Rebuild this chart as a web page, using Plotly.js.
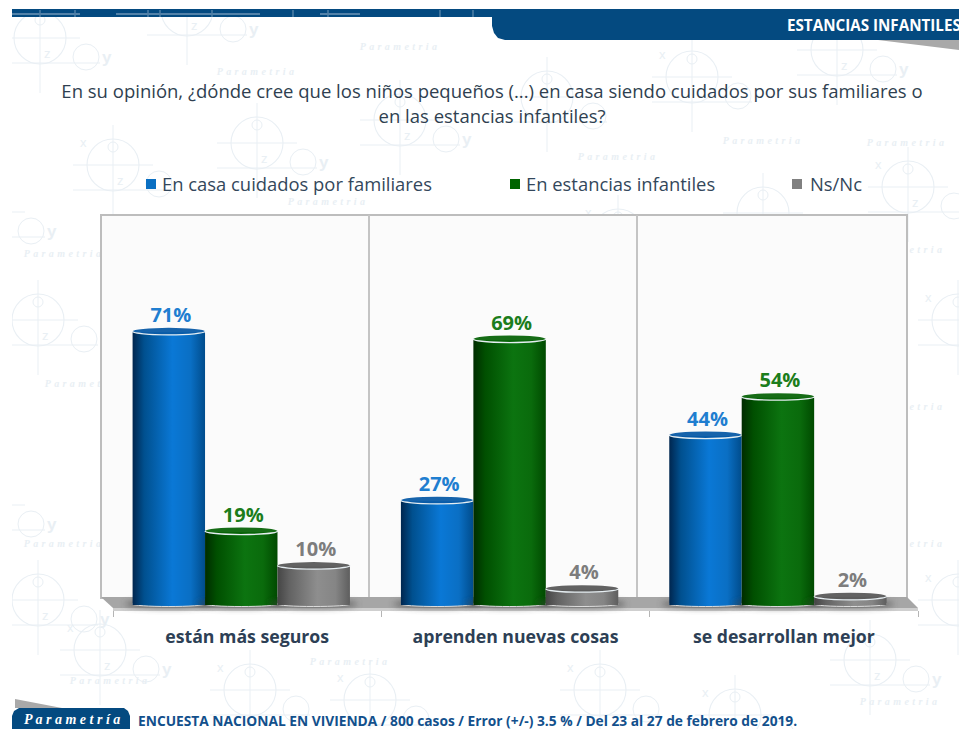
<!DOCTYPE html>
<html lang="es">
<head>
<meta charset="utf-8">
<script src="https://cdn.plot.ly/plotly-3.0.1.min.js"></script>
<style>
html,body{margin:0;padding:0;background:#fff;overflow:hidden}
#stage{position:relative;width:959px;height:729px;overflow:hidden}
#wm{position:absolute;left:0;top:0}
#chart{position:absolute;left:0;top:0;width:959px;height:729px}
</style>
</head>
<body>
<div id="stage">
<svg id="wm" width="959" height="729"></svg>
<div id="chart"></div>
</div>
<script>
var categories = ["están más seguros", "aprenden nuevas cosas", "se desarrollan mejor"];
var seriesNames = ["En casa cuidados por familiares", "En estancias infantiles", "Ns/Nc"];
var enCasa = [71, 27, 44];
var enEstancias = [19, 69, 54];
var nsNc = [10, 4, 2];
var titleText = "En su opinión, ¿dónde cree que los niños pequeños (...) en casa siendo cuidados por sus familiares o<br>en las estancias infantiles?";
var headerText = "ESTANCIAS INFANTILES";
var brandText = "Parametría";
var footerText = "ENCUESTA NACIONAL EN VIVIENDA / 800 casos / Error (+/-) 3.5 % / Del 23 al 27 de febrero de 2019.";

var swatch = ["#0a6fc2", "#006400", "#808080"];
var labelCol = ["#1f7ed0", "#1c7d1c", "#7d7d7d"];
var lidCol = ["#0a5ba6", "#0a640a", "#5a5a5a"];
var grads = [
  [["0","#00264f"],["0.16","#00508f"],["0.55","#0a78d6"],["0.8","#0a6fc4"],["1","#004c8c"]],
  [["0","#002c00"],["0.16","#004f00"],["0.55","#0c7410"],["0.8","#0a6b0c"],["1","#004a00"]],
  [["0","#454545"],["0.16","#626262"],["0.55","#8e8e8e"],["0.8","#858585"],["1","#5e5e5e"]]
];

/* watermark behind the page */
var NS = "http://www.w3.org/2000/svg";
var wm = document.getElementById("wm");
var motifs = [[40,38],[187,10],[113,165],[257,143],[400,120],[547,97],[692,77],[837,50],[908,187],[763,213],[618,235],
  [38,320],[38,600],[958,320],[958,600],[-15,212],[-15,505],[370,700],[600,690],[735,715],[100,650],[870,660],[250,690]];
var words = [[400,50],[257,75],[328,205],[907,146],[763,144],[618,160],[64,257],[85,387],[905,253],
  [905,410],[64,547],[905,547],[110,684],[350,665],[900,705]];
function el(tag, attrs, txt){var e=document.createElementNS(NS,tag);for(var k in attrs)e.setAttribute(k,attrs[k]);if(txt)e.textContent=txt;wm.appendChild(e);return e;}
var wmc = "#e9eff4";
function clearOfText(x,y){
  if(x<14||x>940||y<24||y>704)return false;
  if(y<48&&x>480)return false;
  if(y>78&&y<132&&x>50&&x<935)return false;
  if(y>170&&y<200&&x>130&&x<875)return false;
  if(y>622&&y<652&&x>150&&x<885)return false;
  return true;
}
function letter(x,y,s,size,bold){
  if(!clearOfText(x,y))return;
  el("text",{x:x,y:y,fill:wmc,"font-size":size,"font-weight":bold?"bold":"normal","font-family":"Liberation Sans"},s);
}
motifs.forEach(function(m){
  var x=m[0],y=m[1];
  el("circle",{cx:x,cy:y,r:26,fill:"none",stroke:wmc,"stroke-width":1.1});
  el("circle",{cx:x,cy:y-18,r:5,fill:"none",stroke:wmc});
  el("circle",{cx:x+46,cy:y+19,r:13,fill:"none",stroke:wmc});
  el("line",{x1:x-40,y1:y,x2:x+40,y2:y,stroke:wmc});
  el("line",{x1:x,y1:y-40,x2:x,y2:y+55,stroke:wmc});
  el("line",{x1:x-40,y1:y+25,x2:x+60,y2:y+25,stroke:wmc});
  letter(x-33,y-18,"x",13,false);
  letter(x+4,y+20,"z",13,false);
  letter(x+62,y+25,"y",17,true);
});
words.forEach(function(w){
  el("text",{x:w[0],y:w[1],fill:wmc,"font-size":10,"font-style":"italic","font-weight":"bold","letter-spacing":"3.4px","text-anchor":"middle","font-family":"Liberation Serif"},"Parametria");
});
el("rect",{x:0,y:0,width:12,height:729,fill:"#fff"});
el("rect",{x:0,y:0,width:959,height:9,fill:"#fff"});

/* pixel helpers for the plot frame */
var L=113,R=918,T=215,B=610;
function px(x){return (x-L)/(R-L);}
function py(y){return (B-y)/(B-T);}
function P(pts){return pts.map(function(p,i){return (i?"L":"M")+px(p[0]).toFixed(5)+","+py(p[1]).toFixed(5);}).join(" ")+" Z";}
function shp(pts,fill,line,w,layer){return {type:"path",xref:"paper",yref:"paper",path:P(pts),fillcolor:fill,line:{color:line||"rgba(0,0,0,0)",width:w||0},layer:layer||"below"};}

var shapes = [
  /* header */
  shp([[12,9],[959,9],[959,17],[12,17]],"#044a80"),
  shp([[492,9],[959,9],[959,40],[505,40],[498,38],[494,33],[492,26]],"#044a80"),
  shp([[878,40],[959,40],[959,50]],"#a9a9a9"),
  /* walls */
  shp([[101,215],[907,215],[907,598],[101,598]],"#fbfbfb","#bdbdbd",2),
  shp([[369,215],[369,598]],"rgba(0,0,0,0)","#c4c4c4",2),
  shp([[637,215],[637,598]],"rgba(0,0,0,0)","#c4c4c4",2),
  /* floor */
  shp([[101,597],[907,597],[918,608],[113,608]],"#a6a6a6"),
  shp([[113,608],[918,608],[918,611],[113,611]],"#cfcfcf"),
  /* footer */
  shp([[15,699],[62,708],[15,708]],"#a9a9a9"),
  shp([[12,729],[12,716],[14,711],[19,708],[124,708],[128,711],[130,716],[130,729]],"#044a80")
];
/* pale strokes of the page pattern across the header band */
[[12,80,14],[116,260,14],[320,360,14]].forEach(function(s){
  shapes.push(shp([[s[0],s[2]],[s[1],s[2]]],"rgba(0,0,0,0)","#6f95b6",1));
});
[40,75,148,160,212,293,328,440,473].forEach(function(x){
  shapes.push(shp([[x,10],[x,17]],"rgba(0,0,0,0)","#4f7fa6",1));
});

var off=[-0.427,-0.157,0.113], wid=0.27;
function trace(i,vals){
  return {type:"bar",name:seriesNames[i],x:categories,y:vals,width:wid,offset:off[i],
    marker:{color:swatch[i],line:{width:0}},
    text:vals.map(function(v){return v+"%";}),textposition:"outside",cliponaxis:false,
    textfont:{family:"Open Sans",size:20,color:labelCol[i],weight:700},hoverinfo:"x+y"};
}
var data=[trace(0,enCasa),trace(1,enEstancias),trace(2,nsNc)];

var layout={
  width:959,height:729,
  margin:{l:L,r:959-R,t:T,b:729-B,pad:0},
  paper_bgcolor:"rgba(0,0,0,0)",plot_bgcolor:"rgba(0,0,0,0)",
  font:{family:"Open Sans",color:"#33475b"},
  barmode:"group",
  title:{text:titleText,font:{family:"Open Sans",size:18.5,color:"#2f3f50"},x:492/959,xanchor:"center",y:1-80/729,yanchor:"top",yref:"container"},
  xaxis:{type:"category",range:[-0.5,2.5],fixedrange:true,showgrid:false,zeroline:false,showline:false,
    ticks:"outside",ticklen:6,tickcolor:"#b5b5b5",tickwidth:1,tickson:"boundaries",ticklabelstandoff:14,
    tickfont:{family:"Open Sans",size:17.7,color:"#2d3f55",weight:700}},
  yaxis:{range:[-1.3,101.56],visible:false,fixedrange:true},
  showlegend:true,
  legend:{orientation:"h",x:0.0,y:1.1,xanchor:"left",yanchor:"bottom",bgcolor:"rgba(0,0,0,0)",traceorder:"normal",itemclick:false,itemdoubleclick:false,
    font:{family:"Open Sans",size:18.4,color:"#33475b"}},
  shapes:shapes,
  annotations:[
    {xref:"paper",yref:"paper",x:px(785),y:py(25),xanchor:"left",yanchor:"middle",text:"<b>"+headerText+"</b>",showarrow:false,font:{family:"Open Sans",size:15.2,color:"#ffffff"}},
    {xref:"paper",yref:"paper",x:px(72),y:py(719),xanchor:"center",yanchor:"middle",text:"<b><i>"+brandText.split("").join(" ")+"</i></b>",showarrow:false,font:{family:"Liberation Serif",size:14,color:"#ffffff"}},
    {xref:"paper",yref:"paper",x:px(136),y:py(720),xanchor:"left",yanchor:"middle",text:"<b>"+footerText+"</b>",showarrow:false,font:{family:"Open Sans",size:13.76,color:"#12508c"}}
  ]
};

Plotly.newPlot("chart",data,layout,{displayModeBar:false}).then(function(gd){
  var svg=gd.querySelector(".main-svg");
  var defs=svg.querySelector("defs");
  function mk(tag,attrs){var e=document.createElementNS(NS,tag);for(var k in attrs)e.setAttribute(k,attrs[k]);return e;}
  grads.forEach(function(g,i){
    var lg=mk("linearGradient",{id:"cyl"+i,x1:"0",x2:"1",y1:"0",y2:"0"});
    g.forEach(function(s){lg.appendChild(mk("stop",{offset:s[0],"stop-color":s[1]}));});
    defs.appendChild(lg);
  });
  var blur=mk("filter",{id:"softb",x:"-30%",y:"-100%",width:"160%",height:"300%"});
  blur.appendChild(mk("feGaussianBlur",{stdDeviation:"3"}));
  defs.appendChild(blur);

  /* cylinder look, built from the bars the library has drawn */
  gd.querySelectorAll(".barlayer .trace.bars").forEach(function(tr,i){
    tr.querySelectorAll(".point").forEach(function(pt){
      var path=pt.querySelector("path");
      path.style.fill="url(#cyl"+i+")";
      var b=path.getBBox(), cx=b.x+b.width/2, rx=b.width/2, top=b.y, bot=b.y+b.height;
      pt.insertBefore(mk("ellipse",{cx:cx,cy:bot-1,rx:rx+8,ry:4,fill:"#4a4a4a",opacity:0.75,filter:"url(#softb)"}),path);
      pt.insertBefore(mk("ellipse",{cx:cx,cy:bot-1,rx:rx,ry:2.5,fill:"url(#cyl"+i+")",stroke:"#dcdcdc","stroke-width":1}),path);
      var next=path.nextSibling;
      pt.insertBefore(mk("ellipse",{cx:cx,cy:top-1,rx:rx,ry:3.5,fill:lidCol[i],opacity:0.95}),next);
      pt.insertBefore(mk("path",{d:"M"+(cx-rx)+","+(top-1)+" A"+rx+",3.5 0 0 0 "+(cx+rx)+","+(top-1),fill:"none",stroke:"#e6eef2","stroke-width":1.3}),next);
      var t=pt.querySelector("text");
      if(t)t.setAttribute("transform","translate(2,-1.5) "+(t.getAttribute("transform")||""));
    });
  });

  /* legend entries at their own positions */
  var leg=gd.querySelector(".legend");
  var sb=leg.querySelector(".scrollbox");
  if(sb)sb.removeAttribute("clip-path");
  var m=/translate\(([-\d.]+),\s*([-\d.]+)\)/.exec(leg.getAttribute("transform"));
  var lx=+m[1], ly=+m[2];
  var textX=[162,526,810], swatchOffset=[11,11,13];
  leg.querySelectorAll(".traces").forEach(function(t,i){
    t.setAttribute("transform","translate("+(textX[i]-40-lx)+","+(184-ly)+")");
    var lp=t.querySelector(".legendpoints");
    lp.setAttribute("transform","translate("+(40-swatchOffset[i]-20)+",0)");
    var sw=t.querySelector(".legendpoints path");
    sw.setAttribute("d","M5,5H-5V-5H5Z");
  });

  /* title line spacing */
  var titleEl=gd.querySelector(".gtitle");
  titleEl.removeAttribute("dy");
  titleEl.removeAttribute("transform");
  titleEl.setAttribute("y","98");
  var lines=titleEl.querySelectorAll("tspan.line");
  lines.forEach(function(l,i){l.removeAttribute("dy");l.setAttribute("y",String(98+25*i));});
});
</script>
</body>
</html>
